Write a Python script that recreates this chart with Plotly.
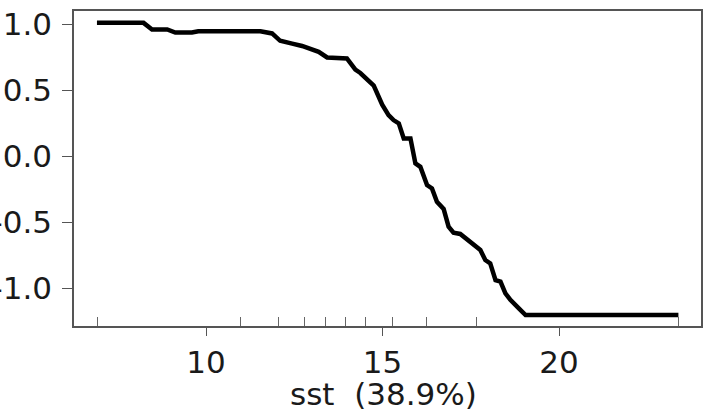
import plotly.graph_objects as go

# partial dependence of response on sst
sst = [6.91, 8.23, 8.47, 8.90, 9.13, 9.60, 9.78, 11.54, 11.87, 12.10, 12.44, 12.72,
       13.19, 13.43, 13.99, 14.23, 14.37, 14.65, 14.75, 14.99, 15.17, 15.31, 15.46,
       15.60, 15.79, 15.93, 16.07, 16.26, 16.40, 16.54, 16.73, 16.87, 17.01, 17.20,
       17.49, 17.77, 17.91, 18.05, 18.20, 18.34, 18.48, 18.62, 18.86, 19.05, 23.38]
fitted = [1.01, 1.01, 0.96, 0.96, 0.937, 0.937, 0.947, 0.947, 0.93, 0.874, 0.853, 0.835,
          0.79, 0.748, 0.740, 0.655, 0.630, 0.563, 0.535, 0.39, 0.311, 0.273, 0.248,
          0.134, 0.134, -0.055, -0.081, -0.22, -0.245, -0.346, -0.40, -0.535, -0.58, -0.59,
          -0.649, -0.712, -0.788, -0.813, -0.94, -0.952, -1.04, -1.09, -1.154, -1.205, -1.205]

# rug: min, deciles, max of sst
rug = [6.93, 10.97, 12.05, 12.78, 13.38, 13.95, 14.53, 15.29, 16.25, 17.66, 23.38]

x_ticks = [10, 15, 20]
y_ticks = [-1.0, -0.5, 0.0, 0.5, 1.0]
y_labels = ["-1.0", "-0.5", "0.0", "0.5", "1.0"]
x_title = "sst  (38.9%)"

fig = go.Figure()
fig.add_trace(go.Scatter(x=sst, y=fitted, mode="lines",
                         line=dict(color="black", width=4.5),
                         showlegend=False, hoverinfo="skip"))

axis_font = dict(family="DejaVu Sans", size=31, color="#1a1a1a")

fig.update_layout(
    width=705, height=411,
    margin=dict(l=74, r=4, t=11, b=85),
    paper_bgcolor="white", plot_bgcolor="white",
    font=axis_font,
    xaxis=dict(
        range=[6.26, 24.02],
        automargin=False,
        tickmode="array", tickvals=x_ticks,
        ticks="outside", ticklen=8, tickwidth=1.2, tickcolor="#555",
        showline=True, linecolor="#555", linewidth=1.5, mirror=True,
        showgrid=False, zeroline=False,
        tickfont=axis_font,
        minor=dict(tickmode="array", tickvals=rug, ticks="inside",
                   ticklen=9, tickwidth=1, tickcolor="#666", showgrid=False),
    ),
    yaxis=dict(
        range=[-1.288, 1.10],
        automargin=False,
        tickmode="array", tickvals=y_ticks, ticktext=y_labels,
        ticks="outside", ticklen=10, tickwidth=1.2, tickcolor="#555",
        ticklabelstandoff=4,
        showline=True, linecolor="#555", linewidth=1.5, mirror=True,
        showgrid=False, zeroline=False,
        tickfont=axis_font,
    ),
    annotations=[dict(
        text=x_title, xref="paper", yref="paper", x=0.5, y=0,
        xanchor="center", yanchor="middle", xshift=-4, yshift=-68,
        showarrow=False, font=axis_font,
    )],
)

# remove the browser's default 8px page margin so the figure sits at (0, 0)
fig.write_html("out.html",
               config={"displayModeBar": False},
               post_script="document.body.style.margin='0';document.body.style.overflow='hidden';")
